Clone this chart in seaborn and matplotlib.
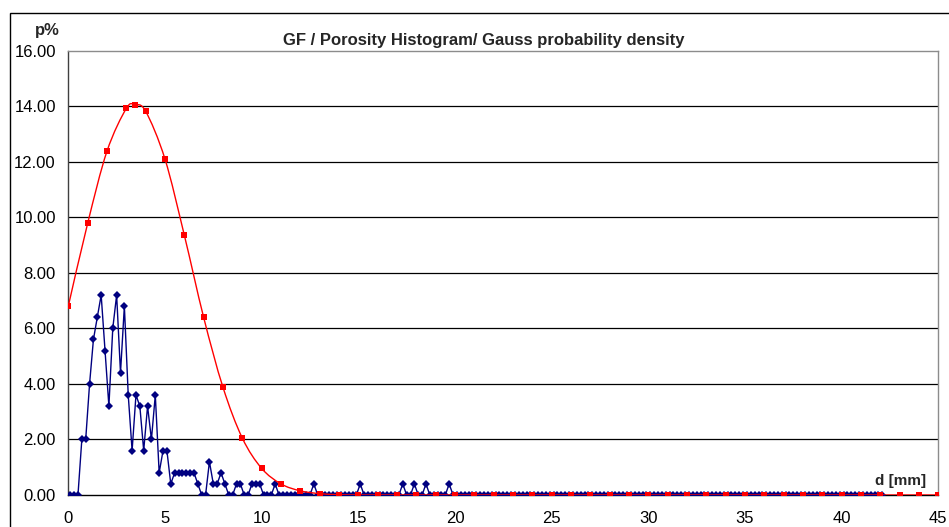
import numpy as np
import pandas as pd
import matplotlib
matplotlib.use("Agg")
import matplotlib.pyplot as plt
import seaborn as sns
from matplotlib.path import Path
from matplotlib.patches import PathPatch, Rectangle

# Porosity histogram: class centres every 0.2 mm starting at 0.1 mm (share of pores, %)
hist_start = 0.1
hist_step = 0.2
hist_values = [
    0.0, 0.0, 0.0, 2.0, 2.0, 4.0, 5.6, 6.4, 7.2, 5.2,
    3.2, 6.0, 7.2, 4.4, 6.8, 3.6, 1.6, 3.6, 3.2, 1.6,
    3.2, 2.0, 3.6, 0.8, 1.6, 1.6, 0.4, 0.8, 0.8, 0.8,
    0.8, 0.8, 0.8, 0.4, 0.0, 0.0, 1.2, 0.4, 0.4, 0.8,
    0.4, 0.0, 0.0, 0.4, 0.4, 0.0, 0.0, 0.4, 0.4, 0.4,
    0.0, 0.0, 0.0, 0.4, 0.0, 0.0, 0.0, 0.0, 0.0, 0.0,
    0.0, 0.0, 0.0, 0.4, 0.0, 0.0, 0.0, 0.0, 0.0, 0.0,
    0.0, 0.0, 0.0, 0.0, 0.0, 0.4, 0.0, 0.0, 0.0, 0.0,
    0.0, 0.0, 0.0, 0.0, 0.0, 0.0, 0.4, 0.0, 0.0, 0.4,
    0.0, 0.0, 0.4, 0.0, 0.0, 0.0, 0.0, 0.0, 0.4,
] + [0.0] * 112
hist_d = [round(hist_start + hist_step * i, 1) for i in range(len(hist_values))]

# Gauss probability density evaluated at integer diameters plus the mean
gauss_d = [0, 1, 2, 3, 3.44, 4, 5, 6, 7, 8, 9, 10, 11, 12, 13, 14, 15,
           16, 17, 18, 19, 20, 21, 22, 23, 24, 25, 26, 27, 28, 29, 30,
           31, 32, 33, 34, 35, 36, 37, 38, 39, 40, 41, 42, 43, 44, 45]
gauss_p = [6.80, 9.78, 12.38, 13.92, 14.05, 13.82, 12.10, 9.36, 6.40, 3.88,
           2.05, 0.96, 0.40, 0.15, 0.05, 0.01, 0.0,
           0.0, 0.0, 0.0, 0.0, 0.0, 0.0, 0.0, 0.0, 0.0, 0.0, 0.0, 0.0, 0.0,
           0.0, 0.0, 0.0, 0.0, 0.0, 0.0, 0.0, 0.0, 0.0, 0.0, 0.0, 0.0, 0.0,
           0.0, 0.0, 0.0, 0.0]

y_ticks = [0, 2, 4, 6, 8, 10, 12, 14, 16]
x_ticks = [0, 5, 10, 15, 20, 25, 30, 35, 40, 45]

hist_df = pd.DataFrame({"d": hist_d, "p": hist_values})
gauss_df = pd.DataFrame({"d": gauss_d, "p": gauss_p})

sns.set_style("white")
plt.rcParams["font.family"] = ["Liberation Sans", "DejaVu Sans"]

W, H = 949, 527
fig = plt.figure(figsize=(W / 100, H / 100), dpi=100)
ax = fig.add_axes([68.3 / W, 32 / H, 870 / W, 444.3 / H])

# horizontal grid
for yv in y_ticks[1:-1]:
    ax.axhline(yv, color="black", lw=0.9, zorder=1)

# histogram series
sns.lineplot(data=hist_df, x="d", y="p", ax=ax, color="#000080", lw=1.0,
             marker="D", markersize=3.6, markeredgewidth=0, sort=False,
             zorder=3)

# Gauss curve, drawn as a smoothed (Catmull-Rom) Bezier through its points
gx = np.asarray(gauss_d, dtype=float)
gy = np.asarray(gauss_p, dtype=float)
verts = [(gx[0], gy[0])]
codes = [Path.MOVETO]
n = len(gx)
for i in range(n - 1):
    x0, y0 = (gx[i - 1], gy[i - 1]) if i > 0 else (gx[i], gy[i])
    x1, y1 = gx[i], gy[i]
    x2, y2 = gx[i + 1], gy[i + 1]
    x3, y3 = (gx[i + 2], gy[i + 2]) if i + 2 < n else (x2, y2)
    c1 = (x1 + (x2 - x0) / 6, y1 + (y2 - y0) / 6)
    c2 = (x2 - (x3 - x1) / 6, y2 - (y3 - y1) / 6)
    verts += [c1, c2, (x2, y2)]
    codes += [Path.CURVE4, Path.CURVE4, Path.CURVE4]
ax.add_patch(PathPatch(Path(verts, codes), facecolor="none",
                       edgecolor="#FF0000", lw=1.0, zorder=4))
sns.scatterplot(data=gauss_df, x="d", y="p", ax=ax, color="#FF0000",
                marker="s", s=16, linewidth=0, zorder=5)

ax.set_xlim(0, 45)
ax.set_ylim(0, 16)
ax.set_xticks(x_ticks)
ax.set_xticklabels([str(v) for v in x_ticks])
ax.set_yticks(y_ticks)
ax.set_yticklabels([f"{v:.2f}" for v in y_ticks])
ax.tick_params(axis="both", direction="out", length=4, width=0.9,
               color="#404040", labelsize=12, labelcolor="black", pad=5)
ax.tick_params(axis="x", pad=7.5)
ax.set_xlabel("")
ax.set_ylabel("")

for side in ("top", "right"):
    ax.spines[side].set_color("#8c8c8c")
    ax.spines[side].set_linewidth(1.0)
ax.spines["left"].set_color("#404040")
ax.spines["left"].set_linewidth(1.0)
ax.spines["bottom"].set_color("black")
ax.spines["bottom"].set_linewidth(1.0)

# chart frame
fig.add_artist(Rectangle((9.5 / W, -0.1), 1.2, (H - 13) / H + 0.1,
                         transform=fig.transFigure, fill=False,
                         edgecolor="black", lw=1.0))

fig.text(484 / W, 1 - 40 / H, "GF / Porosity Histogram/ Gauss probability density",
         ha="center", va="center", fontsize=12, fontweight="bold")
fig.text(47.5 / W, 1 - 30 / H, "p%", ha="center", va="center",
         fontsize=12, fontweight="bold")
fig.text(901 / W, 1 - 481 / H, "d [mm]", ha="center", va="center",
         fontsize=11, fontweight="bold")

fig.savefig("out.png", dpi=100)
